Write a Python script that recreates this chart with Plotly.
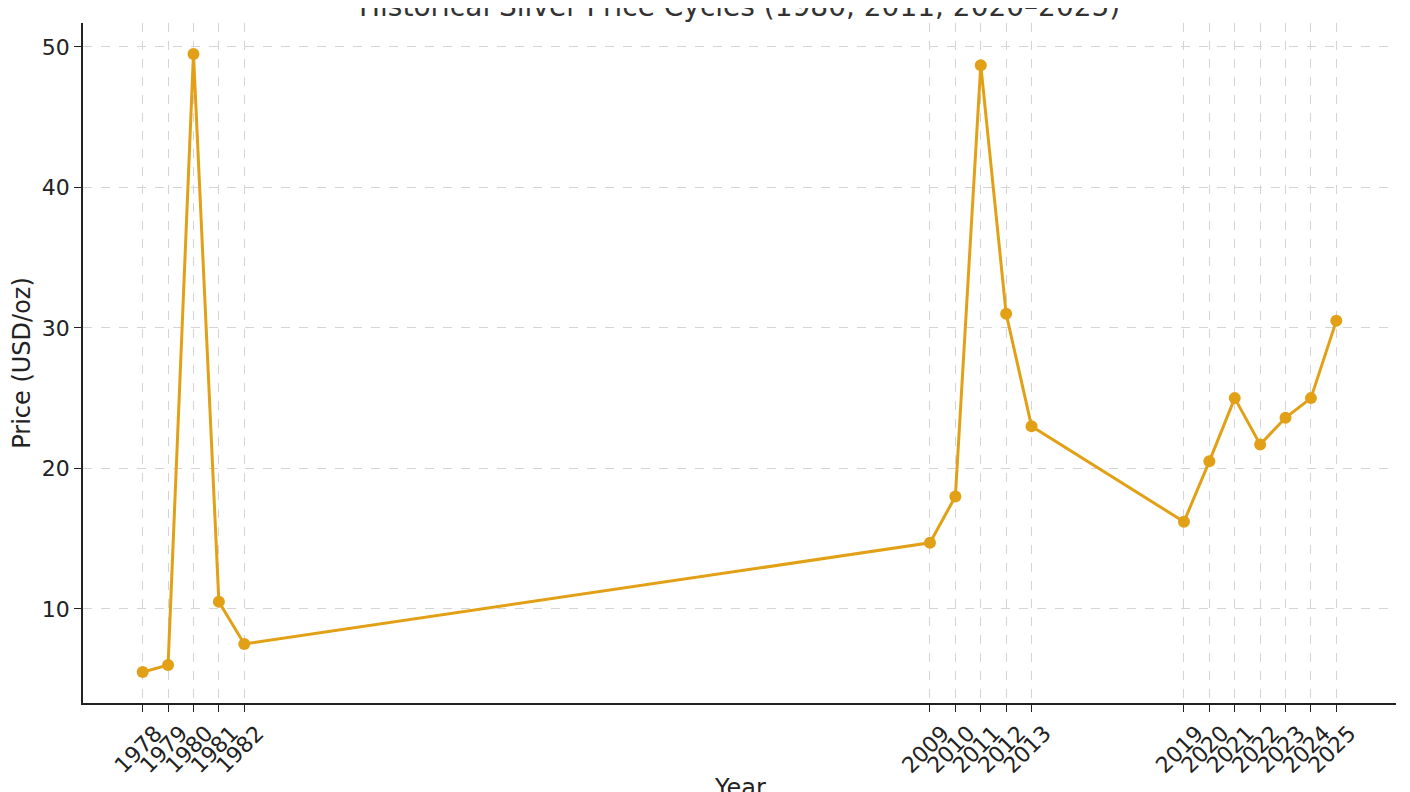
import plotly.graph_objects as go

years = [1978, 1979, 1980, 1981, 1982,
         2009, 2010, 2011, 2012, 2013,
         2019, 2020, 2021, 2022, 2023, 2024, 2025]
prices = [5.5, 6.0, 49.5, 10.5, 7.5,
          14.7, 18.0, 48.7, 31.0, 23.0,
          16.2, 20.5, 25.0, 21.7, 23.6, 25.0, 30.5]
y_ticks = [10, 20, 30, 40, 50]

gold = "#E2A016"
font = "DejaVu Sans, Liberation Sans, sans-serif"

fig = go.Figure(go.Scatter(
    x=years, y=prices, mode="lines+markers",
    line=dict(color=gold, width=3),
    marker=dict(color=gold, size=12),
))

# matplotlib-like 5% margins
span_x = years[-1] - years[0]
span_y = max(prices) - min(prices)

# page body adds 8px margin, so the figure is sized/offset to compensate
fig.update_layout(
    width=1402, height=784,
    margin=dict(l=75, r=14, t=15, b=89),
    paper_bgcolor="white", plot_bgcolor="white",
    font=dict(family=font, size=22, color="#222222"),
    showlegend=False,
    xaxis=dict(
        range=[years[0] - 0.05 * span_x, years[-1] + 0.05 * span_x],
        tickmode="array", tickvals=years, ticktext=[str(y) for y in years],
        tickangle=-45, ticklabelshift=13,
        ticks="outside", ticklen=7, tickwidth=1.3, tickcolor="#222222",
        showline=True, linecolor="#222222", linewidth=1.6, mirror=False,
        showgrid=True, gridcolor="#d4d4d4", griddash="dash", gridwidth=1,
        zeroline=False, automargin=False,
    ),
    yaxis=dict(
        range=[min(prices) - 0.05 * span_y, max(prices) + 0.05 * span_y],
        tickmode="array", tickvals=y_ticks,
        ticks="outside", ticklen=7, tickwidth=1.3, tickcolor="#222222",
        showline=True, linecolor="#222222", linewidth=1.6, mirror=False,
        showgrid=True, gridcolor="#d4d4d4", griddash="dash", gridwidth=1,
        zeroline=False, automargin=False,
        title=dict(text="Price (USD/oz)", standoff=6, font=dict(size=24)),
    ),
    annotations=[
        dict(text="Historical Silver Price Cycles (1980, 2011, 2020–2025)",
             xref="paper", yref="paper", x=0.5, y=1 + 17 / 680,
             xanchor="center", yanchor="middle", showarrow=False,
             font=dict(size=28, color="#333333")),
        dict(text="Year",
             xref="paper", yref="paper", x=0.5, y=-0.101,
             xanchor="center", yanchor="top", showarrow=False,
             font=dict(size=24, color="#222222")),
    ],
)

fig.write_html("out.html")
